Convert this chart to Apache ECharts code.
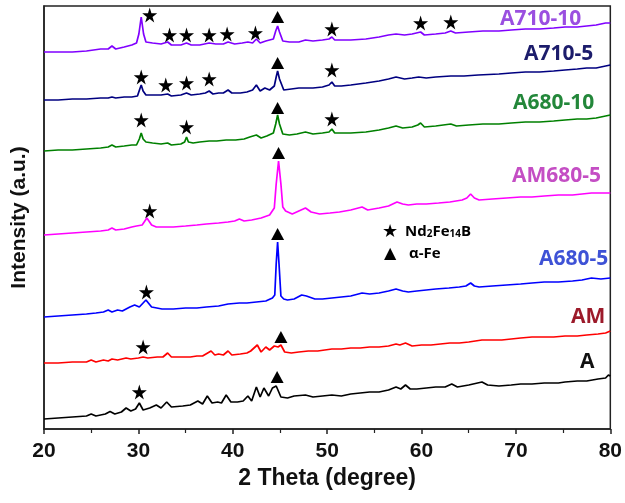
<!DOCTYPE html>
<html>
<head>
<meta charset="utf-8">
<script src="https://cdn.jsdelivr.net/npm/echarts/dist/echarts.min.js"></script>
<style>
  html, body { margin: 0; padding: 0; background: #fff; }
  #chart { width: 625px; height: 503px; }
</style>
</head>
<body>
<div id="chart"></div>
<script>
// ---- data: [2theta, intensity (stacked, a.u.)] ----
const sampleNames = ['A', 'AM', 'A680-5', 'AM680-5', 'A680-10', 'A710-5', 'A710-10'];
const lineColors = ['#000000', '#ff0000', '#0000ff', '#ff00ff', '#008000', '#000080', '#8000ff'];
const labelColors = ['#111111', '#9c1a2a', '#3e52d6', '#c44ec4', '#23873a', '#1c1c6b', '#9a4fe0'];

const patA = [[20,10],[21.5,11],[23,12],[24.5,13],[25,15],[25.5,13],[26.5,15],[27,17.5],[27.5,15],[28.2,17],[28.7,21],[29.2,18],[29.7,20],[30.1,26],[30.5,19],[31.2,21],[31.9,24],[32.4,21],[33,27],[33.5,22],[34.7,23],[35.5,24],[36.3,28],[36.8,25],[37.3,33],[37.8,26],[38.4,27],[38.8,26],[39.3,34],[39.8,27],[40.5,27],[41.1,28],[41.6,33],[42,28],[42.5,42],[42.9,32],[43.3,41],[43.8,33],[44.2,41],[44.6,43],[45.1,32],[45.8,31],[46.5,33],[47.7,34],[48.5,32],[49.5,33],[50.5,34],[51.5,33],[52.5,35],[53.5,36],[54.5,37],[55.5,37],[56.5,39],[57.3,42],[57.8,40],[58.3,44],[58.8,40],[59.5,40],[60.5,41],[61.5,42],[62.5,42],[63.2,45],[63.8,42],[65,44],[66.4,47],[67,44],[68.2,43],[69.5,44],[70.5,45],[71.7,45],[73,46],[74.5,46],[75.2,47],[76.5,48],[77.5,48],[78.7,50],[79.5,51],[79.8,54],[80,53]];
const patAM = [[20,66],[21.5,66],[23,67],[24.5,67],[25,69],[25.5,67],[26.3,69],[26.8,68],[27.2,70],[27.8,69],[28.7,71],[29.2,70],[30,71],[30.5,72],[31,71],[32,72],[32.6,72],[33.1,76],[33.5,72],[34.5,72],[35.5,72],[36.2,73],[36.8,73],[37.7,78],[38.1,74],[38.5,75],[39,74],[39.5,78],[39.9,74],[40.8,75],[41.5,76],[41.9,78],[42.6,84],[43,77],[43.5,82],[43.9,79],[44.4,83],[44.8,82],[45.1,84],[45.5,77],[46.2,76],[47,77],[48,78],[49,78],[50.5,80],[51.5,80],[52.5,81],[53.5,81],[54.5,82],[55.5,82],[56.5,83],[57.3,85],[57.7,84],[58.3,86],[59,83],[60,84],[61,84],[62,85],[63,86],[64,86],[65,87],[66.4,89],[67.5,89],[68.5,89],[69.5,90],[70.5,91],[71.7,92],[73,92],[74,92],[75.2,93],[76.5,93],[77.5,94],[78.7,95],[79.5,96],[80,98]];
const patA6805 = [[20,112],[21.5,113],[23,114],[24.5,115],[25.5,116],[26.3,117],[26.8,119],[27.2,117],[27.8,119],[28.3,118],[29.1,122],[29.6,124],[30.1,122],[30.8,129],[31.4,122],[32.5,120],[33.7,120],[35,121],[36.2,121],[37.2,122],[38.5,123],[39.5,125],[40.7,126],[41.5,126],[42.5,127],[43.5,128],[44.2,131],[44.45,134],[44.6,165],[44.75,187],[44.9,165],[45.1,133],[45.4,130],[45.8,129],[46.5,130],[47.3,134],[47.8,133],[48.7,130],[49.5,130],[50.5,131],[51.5,132],[52.5,133],[53.7,136],[54.5,135],[55.5,136],[56.5,138],[57.3,140],[58,138],[58.6,137],[59.5,138],[60.5,139],[61.5,140],[62.9,141],[64,142],[64.7,143],[65.2,146],[65.6,143],[66.1,142],[67.5,143],[69,144],[70.5,145],[71.7,146],[73,147],[74.5,147],[76,148],[77,149],[78,151],[79,150],[80,151]];
const patAM6805 = [[20,194],[21.5,195],[23,196],[24.5,197],[26,198],[26.8,199],[27.2,201],[27.6,199],[28.5,200],[29.3,202],[29.8,203],[30.4,204],[30.9,211],[31.4,204],[31.9,202],[32.8,202],[33.7,202],[35,203],[36.2,204],[37.2,205],[38.5,206],[39.5,207],[40.2,208],[40.7,210],[41.2,208],[42,209],[43,211],[43.9,214],[44.4,221],[44.6,245],[44.85,268],[45.1,245],[45.3,222],[45.6,218],[46.3,215],[47,218],[47.7,221],[48.3,217],[49.2,215],[50.3,216],[51.3,217],[52.5,219],[53.7,222],[54.3,219],[55.5,221],[56.5,223],[57.4,227],[58,225],[58.6,224],[59.5,225],[60.5,225],[61.8,226],[63,227],[64.3,229],[64.8,231],[65.2,235],[65.6,231],[66.1,229],[67.5,230],[69,231],[70.5,232],[71.7,232],[73,233],[74.5,234],[76,234],[77,235],[78,236],[79,236],[80,236]];
const patA68010 = [[20,278],[21.5,279],[23,279],[24.5,280],[26,281],[26.8,282],[27.2,284],[27.6,282],[28.5,283],[29.3,284],[29.8,284],[30.1,290],[30.3,296],[30.5,290],[30.8,287],[31.5,286],[32.4,285],[33.1,286],[33.5,284],[34.5,285],[34.9,287],[35.1,292],[35.3,287],[35.8,286],[36.5,287],[37.5,288],[38.3,288],[39.3,289],[40.3,289],[41.2,290],[41.8,292],[42.5,294],[43,291],[43.6,293],[44.3,296],[44.55,305],[44.75,314],[44.95,305],[45.3,295],[46,294],[46.8,295],[47.7,297],[48.5,295],[49.5,296],[50.2,297],[50.5,300],[50.8,296],[51.5,296],[52.5,296],[54.1,297],[55.5,299],[56.5,301],[57.3,303],[58,301],[59,302],[59.6,304],[59.9,306],[60.3,302],[61.5,303],[63.1,305],[63.7,303],[65,304],[66.5,305],[68.2,305],[69.5,306],[71,307],[72.5,307],[74,308],[75.2,309],[76.5,310],[77.5,310],[78.5,311],[79.5,313],[80,314]];
const patA7105 = [[20,329],[21.5,329],[23,330],[24.5,330],[26,331],[26.8,331],[27.2,332],[27.6,331],[28.5,332],[29.3,332],[29.9,333],[30.15,340],[30.3,344],[30.5,338],[30.8,334],[31.5,334],[32.4,334],[33.1,335],[33.5,333],[34.5,334],[35.1,336],[35.6,334],[36.5,335],[37.1,336],[37.5,338],[37.9,335],[38.5,336],[39,336],[39.5,339],[39.9,336],[40.8,336],[41.5,337],[42.1,339],[42.5,344],[42.9,338],[43.4,341],[43.9,339],[44.4,343],[44.6,352],[44.75,358],[44.95,350],[45.4,339],[46.2,340],[47,341],[47.7,341],[48.5,341],[49.5,342],[50.2,344],[50.5,347],[50.8,343],[51.5,343],[52.5,344],[54.1,346],[55.5,348],[56.5,350],[57.3,352],[58.2,350],[59,351],[59.7,352],[60.5,351],[61.5,352],[63.1,353],[64.5,353],[66,354],[68.2,355],[69.5,356],[71,357],[72.5,357],[74,358],[75.2,359],[76.5,360],[77.5,361],[78.5,361],[79.5,363],[80,364]];
const patA71010 = [[20,377],[21.5,377],[23,377],[24.5,378],[26,380],[26.8,380],[27.2,383],[27.6,380],[28.5,382],[29.3,384],[29.8,386],[30.05,395],[30.3,412],[30.55,395],[30.8,387],[31.5,386],[32.4,385],[33.1,387],[33.5,384],[34.5,384],[35.1,386],[35.6,384],[36.5,384],[37.5,386],[38.2,385],[39,385],[39.5,387],[40.2,385],[41,386],[41.6,387],[42.1,386],[42.5,390],[42.9,386],[43.5,388],[44.3,390],[44.55,398],[44.75,403],[44.95,397],[45.3,388],[46,387],[47,387],[47.7,389],[48.5,388],[49.5,389],[50.2,390],[50.5,392],[50.8,389],[51.5,389],[52.5,389],[54.1,390],[55.5,392],[56.5,394],[57.3,395],[58.2,394],[59,395],[59.9,397],[60.3,394],[61.5,395],[62.5,396],[63.1,398],[63.6,396],[65,397],[66.5,398],[68.2,398],[69.5,399],[71,400],[72.5,400],[74,401],[75.2,402],[76.5,402],[77.5,403],[78.5,404],[79.5,406],[80,406]];
const patterns = [patA, patAM, patA6805, patAM6805, patA68010, patA7105, patA71010];

// phase markers
const starMarks = [[30.1,37],[30.5,82],[30.85,137],[31.2,218],[30.3,309],[35.1,302],[50.5,310],
  [30.3,352],[32.9,344],[35.1,346],[37.5,350],[50.5,359],
  [31.2,414],[33.3,394],[35.1,394],[37.5,394],[39.4,395],[42.4,396],[50.5,400],[59.9,406],[63.1,407]];
const triMarks = [[44.7,52],[45.1,92],[44.75,195],[44.85,276],[44.75,321],[44.75,366],[44.75,412]];

// label positions (px, left / vertical centre)
const labelPos = [[580,366],[571,321],[539,263],[512,180],[513,107],[524,58],[500,23]];

const starPath = 'path://M50,0 L61,35 L98,35 L68,57 L79,91 L50,70 L21,91 L32,57 L2,35 L39,35 Z';

const chart = echarts.init(document.getElementById('chart'));

const series = patterns.map(function (d, i) {
  return {
    name: sampleNames[i],
    type: 'line',
    data: d,
    showSymbol: false,
    smooth: false,
    lineStyle: { color: lineColors[i], width: 1.7 },
    z: 2
  };
});
series.push({
  type: 'scatter', data: starMarks, symbol: starPath, symbolSize: 15,
  itemStyle: { color: '#000', opacity: 1 }, z: 5
});
series.push({
  type: 'scatter', data: triMarks, symbol: 'triangle', symbolSize: [13, 12],
  itemStyle: { color: '#000', opacity: 1 }, z: 5
});

const graphic = sampleNames.map(function (n, i) {
  return {
    type: 'text', left: labelPos[i][0], top: labelPos[i][1] - 14,
    style: { text: n, fill: labelColors[i], font: 'bold 21px "Open Sans", sans-serif' }
  };
});
graphic.push({
  type: 'text', left: 382, top: 223,
  style: { text: '★', fill: '#000', font: '18px "DejaVu Sans"' }
});
graphic.push({
  type: 'text', left: 405, top: 224,
  style: {
    text: '{n|Nd}{s|2}{n|Fe}{s|14}{n|B}',
    rich: {
      n: { fontSize: 15, fontWeight: 'bold', fontFamily: '"Open Sans"', lineHeight: 18, fill: '#000', verticalAlign: 'bottom' },
      s: { fontSize: 10, fontWeight: 'bold', fontFamily: '"Open Sans"', lineHeight: 11, fill: '#000', verticalAlign: 'bottom' }
    }
  }
});
graphic.push({
  type: 'text', left: 384, top: 246,
  style: { text: '▲', fill: '#000', font: '16px "DejaVu Sans"' }
});
graphic.push({
  type: 'text', left: 409, top: 246,
  style: { text: 'α-Fe', fill: '#000', font: 'bold 15px "Open Sans"' }
});

const option = {
  animation: false,
  grid: {
    left: 44, right: 13, top: 6, bottom: 74,
    show: true, borderColor: '#222', borderWidth: 1.5
  },
  xAxis: {
    type: 'value', min: 20, max: 80, interval: 10,
    name: '2 Theta (degree)', nameLocation: 'middle', nameGap: 37,
    nameTextStyle: { fontFamily: 'Liberation Sans', fontWeight: 'bold', fontSize: 23, color: '#111' },
    axisLine: { lineStyle: { color: '#222', width: 1.5 } },
    axisTick: { length: 5, lineStyle: { color: '#222', width: 1.5 } },
    minorTick: { show: true, splitNumber: 2, length: 4, lineStyle: { color: '#222', width: 1.2 } },
    axisLabel: { fontFamily: 'Liberation Sans', fontWeight: 'bold', fontSize: 21, color: '#111', margin: 12 },
    splitLine: { show: false }
  },
  yAxis: {
    type: 'value', min: 0, max: 423,
    name: 'Intensity (a.u.)', nameLocation: 'middle', nameGap: 14,
    nameTextStyle: { fontFamily: 'Liberation Sans', fontWeight: 'bold', fontSize: 21, color: '#111' },
    axisLine: { show: true, lineStyle: { color: '#222', width: 1.5 } },
    axisTick: { show: false },
    axisLabel: { show: false },
    splitLine: { show: false }
  },
  series: series,
  graphic: graphic
};

chart.setOption(option);
</script>
</body>
</html>
